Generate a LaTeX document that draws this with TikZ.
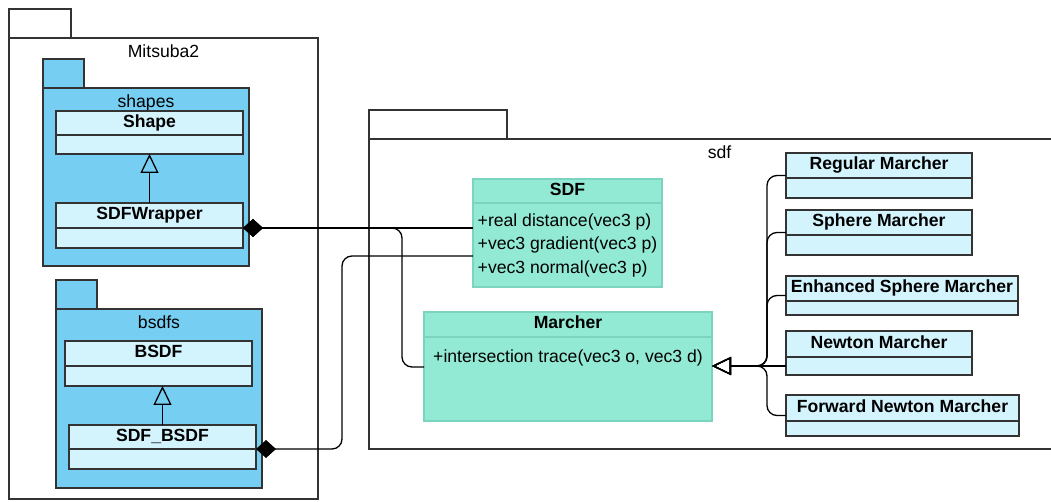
\documentclass[tikz,border=0pt]{standalone}
\usepackage{fontspec}
\setmainfont{Liberation Sans}
\usepackage{xcolor}
\usetikzlibrary{positioning,calc,arrows.meta}

\definecolor{pkgblue}{RGB}{118,206,242}
\definecolor{clsblue}{RGB}{211,243,253}
\definecolor{mint}{RGB}{146,234,212}
\definecolor{mintline}{RGB}{124,212,190}
\definecolor{edge}{RGB}{51,51,51}
\newcommand{\umlfont}{\fontsize{8.8}{11.75}\selectfont}

\begin{document}
\begin{tikzpicture}[
	  x=0.5pt, y=-0.5pt,
	  font=\umlfont,
	  %style for packages
	  pkg/.style={rectangle, draw=edge, line width=0.65pt, inner sep=0pt, outer sep=0pt, anchor=north west},
	  %style for package tabs
	  tab/.style={rectangle, draw=edge, line width=0.65pt, inner sep=0pt, outer sep=0pt, minimum height=14.5pt},
	  %style for package names
	  pname/.style={anchor=north, inner sep=3pt},
	  %style for class headers
	  cls/.style={rectangle, draw=edge, line width=0.65pt, fill=clsblue, font=\umlfont\bfseries, inner xsep=2pt, inner ysep=0pt, outer sep=0pt, text height=6.5pt, text depth=2pt, anchor=north west, minimum height=12.5pt},
	  %style for class bodies
	  att/.style={rectangle, draw=edge, line width=0.65pt, fill=clsblue, inner sep=0pt, outer sep=0pt, minimum height=10pt},
	  % mint classes of sdf
	  mcls/.style={cls, fill=mint, draw=mintline},
	  matt/.style={att, fill=mint, draw=mintline},
	  %style for inheritance arrows
	  inh/.style={draw=black, line width=0.65pt, -{Triangle[open, length=9.5pt, width=9pt]}, rounded corners=5pt},
	  %style for composition
	  comp/.style={draw=black, line width=0.65pt, {Diamond[length=10pt, width=9pt]}-, rounded corners=5pt}]

      \useasboundingbox (0,0) rectangle (1051,502);

      %packages
      \node[pkg, fill=white, minimum width=154.5pt, minimum height=230.5pt, label={[pname]north:Mitsuba2}] (mitsuba) at (9,38) {};
      \node[tab, fill=white, minimum width=31pt, above right=0pt and 0pt of mitsuba.north west] (mitsubatab) {};
      \node[pkg, fill=pkgblue, minimum width=103pt, minimum height=89pt, label={[pname]north:shapes}] (shapes) at (43,88) {};
      \node[tab, fill=pkgblue, minimum width=20.5pt, above right=0pt and 0pt of shapes.north west] (shapestab) {};
      \node[pkg, fill=pkgblue, minimum width=103pt, minimum height=89.5pt, label={[pname]north:bsdfs}] (bsdfs) at (56,309) {};
      \node[tab, fill=pkgblue, minimum width=20.5pt, above right=0pt and 0pt of bsdfs.north west] (bsdfstab) {};
      \node[pkg, fill=white, minimum width=345.5pt, minimum height=155pt, label={[pname, xshift=2.5pt]north:sdf}] (sdf) at (369,139) {};
      \node[tab, fill=white, minimum width=69pt, above right=0pt and 0pt of sdf.north west] (sdftab) {};

      %classes of mitsuba2
      \node[cls, minimum width=93.5pt, minimum height=12pt] (shape) at (56,111) {Shape};
      \node[att, minimum width=93.5pt, minimum height=9.5pt, below=0pt of shape] (shape-att) {};
      \node[cls, minimum width=93.5pt] (wrapper) at (56,203) {SDFWrapper};
      \node[att, minimum width=93.5pt, below=0pt of wrapper] (wrapper-att) {};
      \node[cls, minimum width=93.5pt] (bsdf) at (65,341) {BSDF};
      \node[att, minimum width=93.5pt, below=0pt of bsdf] (bsdf-att) {};
      \node[cls, minimum width=93.5pt, minimum height=12pt] (sdfbsdf) at (69,425) {SDF\_BSDF};
      \node[att, minimum width=93.5pt, below=0pt of sdfbsdf] (sdfbsdf-att) {};

      %classes of sdf
      \node[mcls, minimum width=94.5pt, minimum height=12pt] (sdfcls) at (473,179) {SDF};
      \node[matt, minimum width=94.5pt, minimum height=42pt, align=left, below=0pt of sdfcls] (sdfcls-att)
           {+real distance(vec3 p)\\+vec3 gradient(vec3 p)\\+vec3 normal(vec3 p)};
      \node[mcls, minimum width=144pt] (marcher) at (424,312) {Marcher};
      \node[matt, minimum width=144pt, text height=13pt, text depth=29pt, below=0pt of marcher] (marcher-att)
           {+intersection trace(vec3 o, vec3 d)};
      \node[cls, minimum width=93pt] (regular) at (786,153) {Regular Marcher};
      \node[att, minimum width=93pt, below=0pt of regular] (regular-att) {};
      \node[cls, minimum width=93pt] (sphere) at (786,210) {Sphere Marcher};
      \node[att, minimum width=93pt, below=0pt of sphere] (sphere-att) {};
      \node[cls, minimum width=116pt] (enhanced) at (786,276) {Enhanced Sphere Marcher};
      \node[att, minimum width=116pt, minimum height=7pt, below=0pt of enhanced] (enhanced-att) {};
      \node[cls, minimum width=93pt, minimum height=13pt] (newton) at (786,331) {Newton Marcher};
      \node[att, minimum width=93pt, minimum height=9pt, below=0pt of newton] (newton-att) {};
      \node[cls, minimum width=116.5pt, minimum height=13pt] (forward) at (786,395) {Forward Newton Marcher};
      \node[att, minimum width=116.5pt, minimum height=7.5pt, below=0pt of forward] (forward-att) {};

      %edges
      \draw[inh] (wrapper.north) -- (shape-att.south);
      \draw[inh] (sdfbsdf.north) -- (sdfbsdf.north |- bsdf-att.south);
      \draw[comp] (wrapper.south east) -- (wrapper.south east -| sdfcls-att.west);
      \draw[comp] (wrapper.south east) -- ++(159,0) |- ([yshift=6pt]marcher-att.west);
      \draw[comp] (sdfbsdf.south east) -- ++(86,0) |- ([yshift=-5.5pt]sdfcls-att.west);
      \coordinate (mtip) at (marcher-att.east |- newton-att.west);
      \draw[inh] (newton-att.west) -- (mtip);
      \foreach \c in {regular, sphere, enhanced, forward}
        \draw[inh] ($(\c.north west)!0.5!(\c-att.south west)$) -- ++(-19,0) |- (mtip);
\end{tikzpicture}
\end{document}
